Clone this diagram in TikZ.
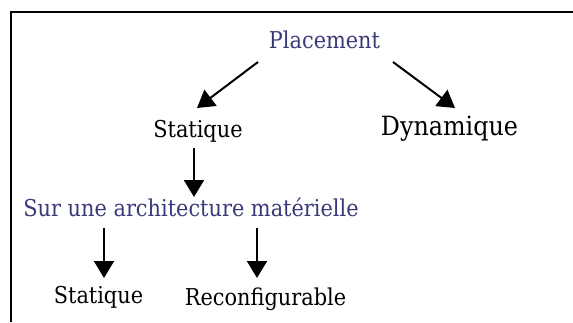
\documentclass[tikz,border=0pt]{standalone}
\usepackage{fontspec}
\setmainfont{DejaVu Serif Condensed}
\usetikzlibrary{arrows.meta}
\definecolor{tblue}{RGB}{58,58,122}
\tikzset{
  lbl/.style={inner sep=0pt, anchor=base, font=\fontsize{23.2}{27}\selectfont},
  big/.style={inner sep=0pt, anchor=base, font=\fontsize{26.5}{30}\selectfont},
  arr/.style={line width=2pt, -{Triangle[length=17pt,width=20pt]}},
  frame/.style={line width=1.5pt}
}
\begin{document}
\begin{tikzpicture}[x=1pt,y=-1pt]
\useasboundingbox (0,0) rectangle (573,322);
\draw[frame] (11,322) -- (11,12) -- (573,12);
\node[lbl, text=tblue] (P) at (324.5,48) {Placement};
\node[lbl] (S1) at (198,137) {Statique};
\node[big] (D) at (449.5,135) {Dynamique};
\node[lbl, text=tblue] (A) at (191,216) {Sur une architecture matérielle};
\node[lbl] (S2) at (98.5,303) {Statique};
\node[lbl] (R) at (265.5,305) {Reconfigurable};
\draw[arr] ([shift={(-66.5,14)}]P.base) -- ([shift={(-1,-29)}]S1.base);
\draw[arr] ([shift={(68.5,14)}]P.base) -- ([shift={(5.5,-27)}]D.base);
\draw[arr] ([shift={(-4,11)}]S1.base) -- ([shift={(3,-19)}]A.base);
\draw[arr] ([shift={(5.5,12)}]A.base -| S2.base) -- ([shift={(5.5,-25)}]S2.base);
\draw[arr] ([shift={(-8.5,12)}]A.base -| R.base) -- ([shift={(-8.5,-27)}]R.base);
\end{tikzpicture}
\end{document}
